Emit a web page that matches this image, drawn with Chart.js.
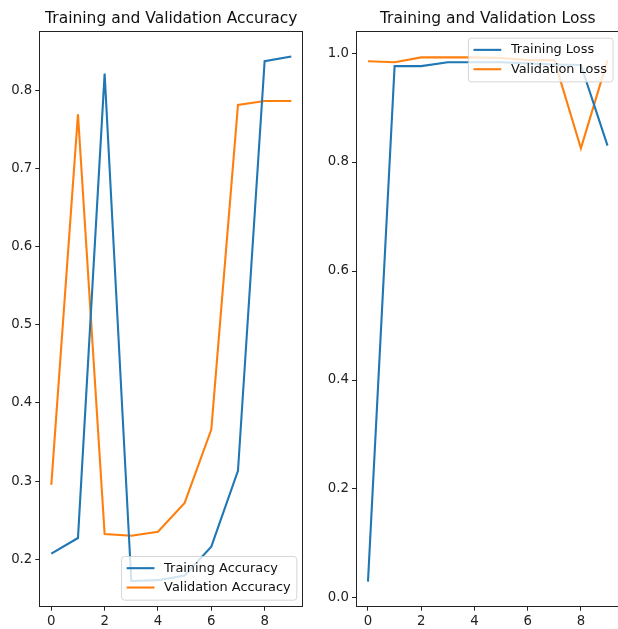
<!DOCTYPE html>
<html>
<head>
<meta charset="utf-8">
<script src="https://cdn.jsdelivr.net/npm/chart.js@4.4.0/dist/chart.umd.min.js"></script>
<style>
html, body { margin: 0; padding: 0; background: #fff; overflow: hidden; }
#wrap { position: relative; width: 618px; height: 629px; overflow: hidden; }
canvas { position: absolute; top: 0; }
#accChart { left: 0; }
#lossChart { left: 310px; }
</style>
</head>
<body>
<div id="wrap">
  <canvas id="accChart" width="310" height="629"></canvas>
  <canvas id="lossChart" width="312" height="629"></canvas>
</div>
<script>
const epochs = [0, 1, 2, 3, 4, 5, 6, 7, 8, 9];
const trainAcc = [0.207, 0.227, 0.822, 0.172, 0.173, 0.179, 0.216, 0.313, 0.838, 0.844];
const valAcc = [0.295, 0.770, 0.232, 0.230, 0.235, 0.272, 0.366, 0.782, 0.787, 0.787];
const trainLoss = [0.030, 0.976, 0.976, 0.983, 0.983, 0.983, 0.981, 0.979, 0.978, 0.830];
const valLoss = [0.985, 0.983, 0.992, 0.992, 0.992, 0.991, 0.987, 0.987, 0.825, 0.987];
const xTicks = [0, 2, 4, 6, 8];
const accTicks = [0.2, 0.3, 0.4, 0.5, 0.6, 0.7, 0.8];
const lossTicks = [0.0, 0.2, 0.4, 0.6, 0.8, 1.0];

const BLUE = '#1f77b4';
const ORANGE = '#ff7f0e';
const FONT = '"DejaVu Sans", sans-serif';

// axes frame, centred title and a legend inside the plot, matplotlib style
const axesDecor = {
    id: 'axesDecor',
    afterDraw(chart, args, opts) {
        const ctx = chart.ctx;
        const a = chart.chartArea;
        ctx.save();
        ctx.strokeStyle = '#222';
        ctx.lineWidth = 1;
        ctx.strokeRect(Math.round(a.left) + 0.5, Math.round(a.top) + 0.5,
            Math.round(a.right - a.left) - 1, Math.round(a.bottom - a.top) - 1);

        ctx.fillStyle = '#111';
        ctx.font = '15.5px ' + FONT;
        ctx.textAlign = 'center';
        ctx.textBaseline = 'alphabetic';
        ctx.fillText(opts.title, (a.left + a.right) / 2, a.top - 8);

        // legend
        const sets = chart.data.datasets;
        ctx.font = '12.9px ' + FONT;
        let maxW = 0;
        sets.forEach(d => { maxW = Math.max(maxW, ctx.measureText(d.label).width); });
        const pad = 5.6, handle = 27.8, gap = 9.6, rowH = 19.35;
        const w = pad + handle + gap + maxW + pad;
        const h = rowH * sets.length + 5;
        const x = a.right - 7 - w;
        const y = opts.corner === 'upper' ? a.top + 7 : a.bottom - 7 - h;
        ctx.beginPath();
        ctx.roundRect(x + 0.5, y + 0.5, w, h, 3);
        ctx.fillStyle = 'rgba(255,255,255,0.8)';
        ctx.fill();
        ctx.strokeStyle = 'rgba(204,204,204,0.8)';
        ctx.lineWidth = 1;
        ctx.stroke();
        sets.forEach((d, i) => {
            const cy = y + 2.5 + rowH / 2 + i * rowH;
            ctx.beginPath();
            ctx.moveTo(x + pad, cy);
            ctx.lineTo(x + pad + handle, cy);
            ctx.strokeStyle = d.borderColor;
            ctx.lineWidth = 2.1;
            ctx.stroke();
            ctx.fillStyle = '#111';
            ctx.textAlign = 'left';
            ctx.textBaseline = 'middle';
            ctx.fillText(d.label, x + pad + handle + gap, cy);
        });
        ctx.restore();
    }
};

function series(label, values, color) {
    return {
        label: label,
        data: epochs.map((e, i) => ({ x: e, y: values[i] })),
        borderColor: color,
        backgroundColor: color,
        borderWidth: 2.1,
        pointRadius: 0,
        tension: 0,
        fill: false
    };
}

function makeChart(id, title, corner, sets, yMin, yMax, yTicks, yWidth, padRight) {
    const tickFont = { family: FONT, size: 13.3 };
    return new Chart(document.getElementById(id).getContext('2d'), {
        type: 'line',
        data: { datasets: sets },
        options: {
            responsive: false,
            animation: false,
            layout: { padding: { top: 30.7, right: padRight, left: 0, bottom: 0 } },
            plugins: {
                legend: { display: false },
                tooltip: { enabled: false },
                axesDecor: { title: title, corner: corner }
            },
            scales: {
                x: {
                    type: 'linear',
                    min: -0.45,
                    max: 9.45,
                    afterBuildTicks: s => { s.ticks = xTicks.map(v => ({ value: v })); },
                    afterFit: s => { s.height = 22.3; },
                    ticks: { font: tickFont, color: '#222', padding: 3, maxRotation: 0,
                        callback: v => String(v) },
                    grid: { drawOnChartArea: false, drawTicks: true, tickLength: 4, color: '#222' },
                    border: { display: false }
                },
                y: {
                    min: yMin,
                    max: yMax,
                    afterBuildTicks: s => { s.ticks = yTicks.map(v => ({ value: v })); },
                    afterFit: s => { s.width = yWidth; },
                    ticks: { font: tickFont, color: '#222', padding: 3,
                        callback: v => Number(v).toFixed(1) },
                    grid: { drawOnChartArea: false, drawTicks: true, tickLength: 4, color: '#222' },
                    border: { display: false }
                }
            }
        },
        plugins: [axesDecor]
    });
}

makeChart('accChart', 'Training and Validation Accuracy', 'lower',
    [series('Training Accuracy', trainAcc, BLUE), series('Validation Accuracy', valAcc, ORANGE)],
    0.139, 0.877, accTicks, 39.3, 6.7);

makeChart('lossChart', 'Training and Validation Loss', 'upper',
    [series('Training Loss', trainLoss, BLUE), series('Validation Loss', valLoss, ORANGE)],
    -0.016, 1.041, lossTicks, 46, 2.5);
</script>
</body>
</html>
